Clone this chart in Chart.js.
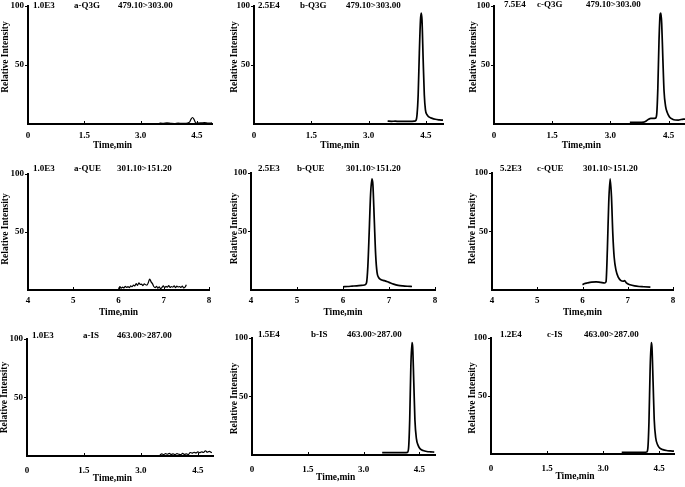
<!DOCTYPE html>
<html>
<head>
<meta charset="utf-8">
<script src="https://cdn.jsdelivr.net/npm/chart.js@4.4.1/dist/chart.umd.min.js"></script>
<style>
  html, body { margin: 0; padding: 0; background: #fff; overflow: hidden; }
  body { width: 685px; height: 487px; position: relative; }
  canvas { position: absolute; }
</style>
</head>
<body>
<script>
// tick labels
const timeTicks = [0, 1.5, 3.0, 4.5];
const timeTickLabels = ["0", "1.5", "3.0", "4.5"];
const queTicks = [4, 5, 6, 7, 8];
const queTickLabels = ["4", "5", "6", "7", "8"];
const yTicks = [50, 100];
const yTickLabels = ["50", "100"];

// panel headers
const scaleLabels = ["1.0E3", "2.5E4", "7.5E4", "1.0E3", "2.5E3", "5.2E3", "1.0E3", "1.5E4", "1.2E4"];
const sampleLabels = ["a-Q3G", "b-Q3G", "c-Q3G", "a-QUE", "b-QUE", "c-QUE", "a-IS", "b-IS", "c-IS"];
const transitionLabels = ["479.10>303.00", "479.10>303.00", "479.10>303.00",
  "301.10>151.20", "301.10>151.20", "301.10>151.20",
  "463.00>287.00", "463.00>287.00", "463.00>287.00"];

// chromatograms (time in min, relative intensity in %)
const q3gA_time = [3.5, 3.6, 3.7, 3.8, 3.9, 4.0, 4.1, 4.2, 4.25, 4.3, 4.34, 4.38, 4.42, 4.46, 4.5, 4.6, 4.7, 4.8, 4.9];
const q3gA_int = [0.8, 0.5, 0.9, 0.6, 0.4, 0.7, 0.5, 0.6, 0.8, 1.5, 4, 5.5, 4, 1.2, 0.8, 0.9, 1.2, 0.8, 0.9];

const q3gB_time = [3.5, 3.6, 3.7, 3.8, 3.9, 4.0, 4.1, 4.2, 4.24, 4.27, 4.30, 4.33, 4.36, 4.38, 4.40, 4.43, 4.46, 4.49, 4.53, 4.58, 4.65, 4.75, 4.85, 4.95];
const q3gB_int = [2.5, 2.3, 2.4, 2.2, 2.2, 2.3, 2.2, 2.4, 3, 8, 25, 60, 88, 94, 88, 55, 25, 12, 8, 6, 5, 4, 3.5, 3.2];

const q3gC_time = [3.5, 3.6, 3.7, 3.8, 3.86, 3.92, 3.98, 4.04, 4.10, 4.16, 4.19, 4.22, 4.25, 4.28, 4.30, 4.32, 4.35, 4.38, 4.42, 4.46, 4.52, 4.6, 4.67, 4.75, 4.82, 4.92];
const q3gC_int = [1.5, 1.5, 1.5, 1.5, 1.6, 2.5, 4, 4.8, 4.8, 5, 8, 30, 70, 93, 94, 85, 55, 28, 15, 10, 6, 4, 3.4, 3.3, 3.8, 4.2];

const queA_time = [6.00, 6.03, 6.06, 6.09, 6.12, 6.15, 6.18, 6.21, 6.24, 6.27, 6.30, 6.33, 6.36, 6.39, 6.42, 6.45, 6.48,
  6.51, 6.54, 6.57, 6.60, 6.63, 6.66, 6.69, 6.72, 6.75, 6.78, 6.81, 6.84, 6.87, 6.90, 6.93, 6.96, 6.99, 7.02,
  7.05, 7.08, 7.11, 7.14, 7.17, 7.20, 7.23, 7.26, 7.29, 7.32, 7.35, 7.38, 7.41, 7.44, 7.47, 7.50];
const queA_int = [1.0, 3.0, 1.5, 2.5, 1.8, 3.2, 2.2, 3.0, 2.0, 3.5, 2.8, 4.2, 3.5, 5.5, 4.0, 6.2, 4.8,
  5.0, 3.8, 5.2, 4.5, 4.2, 6.5, 9.5, 7.0, 5.5, 3.0, 2.0, 3.2, 1.5, 2.8, 1.0, 2.2, 3.5, 2.0,
  3.2, 2.5, 3.8, 2.2, 3.0, 2.4, 3.6, 2.0, 3.3, 2.6, 3.0, 2.2, 3.4, 1.8, 2.5, 4.5];

const queB_time = [6.0, 6.1, 6.2, 6.3, 6.4, 6.47, 6.51, 6.54, 6.57, 6.60, 6.63, 6.65, 6.68, 6.71, 6.74, 6.77, 6.82, 6.9, 7.0, 7.1, 7.2, 7.3, 7.4, 7.5];
const queB_int = [2.8, 3.0, 3.3, 3.6, 4.0, 4.3, 6, 20, 50, 82, 95, 90, 60, 30, 15, 11, 9, 8, 6.5, 5, 4, 3.5, 3.2, 3.0];

const queC_time = [6.0, 6.05, 6.1, 6.2, 6.3, 6.4, 6.49, 6.52, 6.55, 6.58, 6.61, 6.64, 6.67, 6.70, 6.74, 6.79, 6.85, 6.9, 6.93, 6.97, 7.05, 7.15, 7.25, 7.35, 7.5];
const queC_int = [4.5, 5.5, 6, 6.8, 7, 6.5, 6, 7, 35, 75, 95, 80, 48, 28, 17, 11, 8, 7.5, 8, 6, 4.5, 3.5, 3, 2.8, 2.5];

const isA_time = [3.5, 3.55, 3.6, 3.65, 3.7, 3.75, 3.8, 3.85, 3.9, 3.95, 4.0, 4.05, 4.1, 4.15, 4.2, 4.25, 4.3, 4.35,
  4.4, 4.45, 4.5, 4.55, 4.6, 4.65, 4.7, 4.75, 4.8, 4.87];
const isA_int = [1.0, 1.8, 1.2, 2.0, 1.5, 2.2, 1.3, 1.9, 1.2, 2.0, 1.5, 1.1, 2.2, 1.4, 1.8, 1.2, 3.0, 2.5,
  3.2, 2.6, 3.5, 2.8, 3.6, 3.0, 4.5, 3.2, 4.0, 2.8];

const isB_time = [3.5, 3.6, 3.8, 4.0, 4.1, 4.18, 4.21, 4.24, 4.27, 4.30, 4.32, 4.35, 4.38, 4.42, 4.47, 4.53, 4.6, 4.7, 4.8, 4.9];
const isB_int = [2, 2, 2, 2, 2, 2.2, 6, 30, 75, 96, 92, 62, 30, 14, 8, 5, 3.8, 3, 2.7, 2.5];

const isC_time = [3.5, 3.6, 3.8, 4.0, 4.1, 4.17, 4.2, 4.23, 4.26, 4.29, 4.31, 4.34, 4.37, 4.41, 4.46, 4.52, 4.6, 4.7, 4.8, 4.9];
const isC_int = [1.5, 1.5, 1.5, 1.5, 1.5, 1.7, 5, 28, 72, 96, 92, 62, 30, 14, 8, 5, 3.8, 3, 2.7, 2.5];

const FONT = '"Liberation Serif", "Times New Roman", serif';
const PAD = { left: 30, top: 12, right: 10, bottom: 30 };

// plot areas on the page and text offsets
const panels = [
  { time: q3gA_time, int: q3gA_int, L: 28, T: 6, R: 212, B: 124, xMax: 4.9, que: false, hx: [5, 46, 90], hy: 0, lw: 1.2, tickPad: 6, xTitle: 22, yTitle: [-22, -8] },
  { time: q3gB_time, int: q3gB_int, L: 254, T: 6, R: 443, B: 124, xMax: 4.95, que: false, hx: [4, 46, 92], hy: 0, lw: 1.7, tickPad: 6, xTitle: 22, yTitle: [-19, -8] },
  { time: q3gC_time, int: q3gC_int, L: 494, T: 6, R: 685, B: 124, xMax: 4.92, que: false, hx: [10, 43, 92], hy: -1, lw: 1.7, tickPad: 6, xTitle: 22, yTitle: [-20, -8] },
  { time: queA_time, int: queA_int, L: 28, T: 174, R: 209, B: 290, que: true, hx: [5, 46, 89], hy: -5, lw: 1.2, tickPad: 5, xTitle: 23, yTitle: [-22, -3] },
  { time: queB_time, int: queB_int, L: 251, T: 173, R: 435, B: 290, que: true, hx: [7, 46, 95], hy: -4, lw: 1.7, tickPad: 5, xTitle: 23, yTitle: [-16, -3] },
  { time: queC_time, int: queC_int, L: 492, T: 173, R: 673, B: 290, que: true, hx: [8, 45, 91], hy: -4, lw: 1.7, tickPad: 5, xTitle: 23, yTitle: [-19, -3] },
  { time: isA_time, int: isA_int, L: 27, T: 339, R: 213, B: 456, xMax: 4.9, que: false, hx: [5, 56, 90], hy: -3, lw: 1.2, tickPad: 9, xTitle: 23, yTitle: [-22, 0] },
  { time: isB_time, int: isB_int, L: 252, T: 338, R: 435, B: 455, xMax: 4.92, que: false, hx: [6, 59, 95], hy: -3, lw: 1.7, tickPad: 9, xTitle: 23, yTitle: [-17, 2] },
  { time: isC_time, int: isC_int, L: 491, T: 338, R: 674, B: 454, xMax: 4.9, que: false, hx: [9, 56, 93], hy: -3, lw: 1.7, tickPad: 9, xTitle: 23, yTitle: [-18, 2] }
];

const panelText = {
  id: "panelText",
  afterDraw(chart, args, opts) {
    const { ctx, chartArea: a, scales: { x } } = chart;
    const p = opts.panel;
    const k = opts.index;
    ctx.save();
    ctx.fillStyle = "#000";
    ctx.strokeStyle = "#000";

    // header line
    ctx.font = `bold 9px ${FONT}`;
    ctx.textBaseline = "middle";
    ctx.textAlign = "left";
    const header = [scaleLabels[k], sampleLabels[k], transitionLabels[k]];
    header.forEach((txt, j) => ctx.fillText(txt, a.left + p.hx[j], a.top + p.hy));

    // small inward ticks on the time axis
    ctx.lineWidth = 1;
    x.ticks.forEach((t) => {
      const px = Math.round(x.getPixelForValue(t.value)) + 0.5;
      ctx.beginPath();
      ctx.moveTo(px, a.bottom);
      ctx.lineTo(px, a.bottom - 3);
      ctx.stroke();
    });

    // axis titles, centred on the labelled range like the original
    ctx.font = `bold 9.5px ${FONT}`;
    ctx.textAlign = "center";
    const first = x.getPixelForValue(x.ticks[0].value);
    const last = x.getPixelForValue(x.ticks[x.ticks.length - 1].value);
    ctx.fillText("Time,min", (first + last) / 2, a.bottom + p.xTitle);

    ctx.translate(a.left + p.yTitle[0], (a.top + a.bottom) / 2 + p.yTitle[1]);
    ctx.rotate(-Math.PI / 2);
    ctx.fillText("Relative Intensity", 0, 0);
    ctx.restore();
  }
};

panels.forEach((p, k) => {
  const canvas = document.createElement("canvas");
  const w = (p.R - p.L) + PAD.left + PAD.right;
  const h = (p.B - p.T) + PAD.top + PAD.bottom;
  canvas.width = w;
  canvas.height = h;
  canvas.style.width = w + "px";
  canvas.style.height = h + "px";
  canvas.style.left = (p.L - PAD.left) + "px";
  canvas.style.top = (p.T - PAD.top) + "px";
  document.body.appendChild(canvas);

  const ticks = p.que ? queTicks : timeTicks;
  const tickLabels = p.que ? queTickLabels : timeTickLabels;

  new Chart(canvas, {
    type: "line",
    data: {
      datasets: [{
        data: p.time.map((t, j) => ({ x: t, y: p.int[j] })),
        borderColor: "#000",
        borderWidth: p.lw,
        pointRadius: 0,
        fill: false,
        cubicInterpolationMode: "monotone"
      }]
    },
    options: {
      responsive: false,
      animation: false,
      events: [],
      layout: { padding: { left: 0, top: PAD.top, right: PAD.right, bottom: 0 } },
      plugins: {
        legend: { display: false },
        tooltip: { enabled: false },
        panelText: { panel: p, index: k }
      },
      scales: {
        x: {
          type: "linear",
          min: p.que ? 4 : 0,
          max: p.que ? 8 : p.xMax,
          afterBuildTicks: (s) => { s.ticks = ticks.map((v) => ({ value: v })); },
          afterFit: (s) => { s.height = PAD.bottom; },
          grid: { display: false, drawTicks: false, tickLength: 0 },
          border: { display: true, color: "#000", width: 2 },
          ticks: {
            color: "#000",
            padding: p.tickPad,
            maxRotation: 0,
            font: { family: FONT, size: 9, weight: "bold" },
            callback: (v, idx) => tickLabels[idx]
          }
        },
        y: {
          min: 0,
          max: 100,
          afterBuildTicks: (s) => { s.ticks = yTicks.map((v) => ({ value: v })); },
          afterFit: (s) => { s.width = PAD.left; },
          grid: { display: true, drawOnChartArea: false, drawTicks: true, tickLength: 3, color: "#000", lineWidth: 1 },
          border: { display: true, color: "#000", width: 2 },
          ticks: {
            color: "#000",
            padding: 1,
            font: { family: FONT, size: 9, weight: "bold" },
            callback: (v, idx) => yTickLabels[idx]
          }
        }
      }
    },
    plugins: [panelText]
  });
});
</script>
</body>
</html>
